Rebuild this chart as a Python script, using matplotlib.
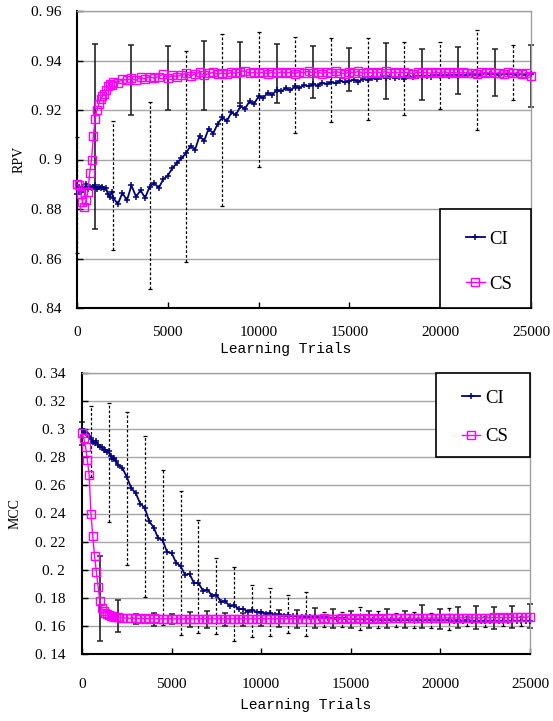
import numpy as np
import matplotlib
matplotlib.use('Agg')
import matplotlib.pyplot as plt
from matplotlib.patches import Rectangle

# x positions of the curve points (finer at the start where CS changes fast)
trials = list(range(0, 2001, 100)) + list(range(2250, 25001, 250))

rpv_ci = [0.886, 0.889, 0.887, 0.889, 0.888, 0.890, 0.888, 0.889, 0.8885, 0.889,
          0.8895, 0.888, 0.889, 0.8885, 0.889, 0.888, 0.8885, 0.886, 0.885, 0.887,
          0.8845,
          0.882, 0.8865, 0.8835, 0.8895, 0.885, 0.8875, 0.8845, 0.889, 0.8905, 0.8885,
          0.892, 0.8935, 0.8965, 0.8985, 0.9005, 0.9025, 0.9055, 0.904, 0.9095, 0.9075,
          0.9125, 0.9105, 0.9145, 0.917, 0.9155, 0.919, 0.918, 0.9215, 0.9205, 0.9235,
          0.9225, 0.9255, 0.925, 0.9268, 0.9262, 0.928, 0.9275, 0.9288, 0.928, 0.9295,
          0.929, 0.930, 0.9296, 0.9305, 0.9298, 0.931, 0.9305, 0.9312, 0.9308, 0.9318,
          0.9312, 0.9318, 0.9322, 0.9315, 0.9325, 0.9322, 0.9328, 0.9325, 0.9332, 0.933,
          0.9335, 0.9328, 0.9334, 0.9326, 0.9336, 0.9332, 0.9338, 0.9334, 0.9339, 0.9335,
          0.934, 0.9336, 0.9341, 0.9337, 0.9342, 0.9339, 0.9343, 0.934, 0.9344, 0.9341,
          0.9345, 0.9348, 0.9344, 0.9346, 0.9343, 0.9347, 0.9344, 0.9346, 0.9343, 0.9345,
          0.9342, 0.9344]

rpv_cs = [0.890, 0.8895, 0.886, 0.883, 0.881, 0.8835, 0.887, 0.8945, 0.900, 0.9095,
          0.9165, 0.920, 0.9225, 0.9245, 0.9255, 0.9265, 0.928, 0.9295, 0.9305, 0.930,
          0.9315,
          0.931, 0.9325, 0.932, 0.9328, 0.932, 0.9332, 0.9325, 0.9335, 0.9328, 0.9335,
          0.9345, 0.933, 0.934, 0.9335, 0.9342, 0.9348, 0.9338, 0.9345, 0.9352, 0.934,
          0.9348, 0.9352, 0.9344, 0.935, 0.9345, 0.9352, 0.9348, 0.9355, 0.9358, 0.9348,
          0.9352, 0.9348, 0.9353, 0.9346, 0.9352, 0.9348, 0.9354, 0.9349, 0.9353, 0.9347,
          0.9355, 0.935, 0.9358, 0.9349, 0.9355, 0.9347, 0.9353, 0.9349, 0.9356, 0.9351,
          0.9346, 0.9354, 0.935, 0.9357, 0.9348, 0.9354, 0.9349, 0.9355, 0.935, 0.9356,
          0.9348, 0.9353, 0.9349, 0.9354, 0.935, 0.9347, 0.9353, 0.9349, 0.9352, 0.9348,
          0.9354, 0.935, 0.9355, 0.9349, 0.9352, 0.9348, 0.9353, 0.9349, 0.9351, 0.9346,
          0.9352, 0.9349, 0.9353, 0.9348, 0.9351, 0.9347, 0.9352, 0.9348, 0.935, 0.9346,
          0.9349, 0.9338]

mcc_ci = [0.300, 0.2985, 0.297, 0.2965, 0.2945, 0.2935, 0.291, 0.2905, 0.2915, 0.2885,
          0.287, 0.2875, 0.285, 0.2855, 0.2835, 0.2845, 0.281, 0.279, 0.2795, 0.2775,
          0.2745,
          0.2725, 0.2660, 0.2580, 0.2545, 0.2470, 0.2440, 0.2345, 0.2300, 0.2225, 0.2210,
          0.2125, 0.2120, 0.2050, 0.2025, 0.1965, 0.1970, 0.1905, 0.1905, 0.1850, 0.1858,
          0.1815, 0.1822, 0.1772, 0.1775, 0.1740, 0.1748, 0.1720, 0.1722, 0.1702, 0.1714,
          0.1698, 0.1700, 0.1688, 0.1690, 0.1680, 0.1682, 0.1674, 0.1676, 0.1670, 0.1672,
          0.1666, 0.1668, 0.1662, 0.1664, 0.1658, 0.1660, 0.1655, 0.1657, 0.1652, 0.1653,
          0.1650, 0.1651, 0.1648, 0.1649, 0.1646, 0.1647, 0.1645, 0.1646, 0.1644, 0.1645,
          0.1643, 0.1644, 0.1642, 0.1643, 0.1641, 0.1642, 0.1640, 0.1641, 0.1640, 0.1641,
          0.1639, 0.1640, 0.1639, 0.1640, 0.1638, 0.1639, 0.1638, 0.1639, 0.1637, 0.1638,
          0.1637, 0.1638, 0.1637, 0.1638, 0.1636, 0.1637, 0.1636, 0.1637, 0.1636, 0.1637,
          0.1636, 0.1637]

mcc_cs = [0.297, 0.2935, 0.2875, 0.278, 0.2675, 0.240, 0.224, 0.210, 0.1985, 0.188,
          0.1775, 0.1725, 0.1708, 0.1695, 0.1688, 0.1678, 0.1672, 0.1668, 0.1666, 0.1664,
          0.1662,
          0.1658, 0.1656, 0.1654, 0.1655, 0.1652, 0.1654, 0.1651, 0.1653, 0.1650, 0.1652,
          0.1650, 0.1652, 0.1649, 0.1651, 0.1650, 0.1652, 0.1649, 0.1651, 0.1650, 0.1652,
          0.1650, 0.1651, 0.1649, 0.1651, 0.1650, 0.1652, 0.1650, 0.1651, 0.1649, 0.1651,
          0.1650, 0.1652, 0.1650, 0.1651, 0.1650, 0.1652, 0.1650, 0.1651, 0.1650, 0.1652,
          0.1651, 0.1652, 0.1650, 0.1652, 0.1651, 0.1653, 0.1651, 0.1652, 0.1651, 0.1653,
          0.1652, 0.1653, 0.1651, 0.1653, 0.1652, 0.1654, 0.1652, 0.1653, 0.1652, 0.1654,
          0.1653, 0.1654, 0.1653, 0.1655, 0.1654, 0.1655, 0.1654, 0.1656, 0.1655, 0.1656,
          0.1655, 0.1657, 0.1656, 0.1657, 0.1656, 0.1658, 0.1657, 0.1658, 0.1657, 0.1659,
          0.1658, 0.1659, 0.1658, 0.1660, 0.1659, 0.1660, 0.1659, 0.1661, 0.1660, 0.1661,
          0.1661, 0.1666]

# error bars (position, lower end, upper end)
rpv_cs_err_x = list(range(1000, 25001, 2000))
rpv_cs_err_lo = [0.8719, 0.9179, 0.9201, 0.9199, 0.9230, 0.9230, 0.9247,
                 0.9276, 0.9244, 0.9239, 0.9265, 0.9257, 0.9213]
rpv_cs_err_hi = [0.9467, 0.9464, 0.9460, 0.9480, 0.9476, 0.9468, 0.9459,
                 0.9450, 0.9471, 0.9445, 0.9455, 0.9445, 0.9461]

rpv_ci_err_x = list(range(0, 24001, 2000))
rpv_ci_err_lo = [0.8622, 0.8634, 0.8477, 0.8585, 0.8812, 0.8971, 0.9108,
                 0.9151, 0.9161, 0.9180, 0.9203, 0.9120, 0.9239]
rpv_ci_err_hi = [0.9092, 0.9157, 0.9234, 0.9440, 0.9508, 0.9516, 0.9494,
                 0.9491, 0.9490, 0.9473, 0.9473, 0.9522, 0.9464]

mcc_cs_err_x = list(range(0, 25001, 1000))
mcc_cs_err_lo = [0.2890, 0.1493, 0.1559, 0.1611, 0.1601, 0.1611, 0.1594, 0.1585, 0.1599,
                 0.1599, 0.1599, 0.1594, 0.1587, 0.1583, 0.1583, 0.1583, 0.1583, 0.1583,
                 0.1587, 0.1583, 0.1578, 0.1587, 0.1578, 0.1578, 0.1583, 0.1583]
mcc_cs_err_hi = [0.3053, 0.2098, 0.1782, 0.1682, 0.1690, 0.1682, 0.1701, 0.1705, 0.1690,
                 0.1694, 0.1690, 0.1713, 0.1713, 0.1725, 0.1718, 0.1706, 0.1708, 0.1718,
                 0.1708, 0.1749, 0.1718, 0.1732, 0.1742, 0.1737, 0.1744, 0.1754]

mcc_ci_err_x = list(range(500, 24501, 1000))
mcc_ci_err_lo = [0.2660, 0.2342, 0.2033, 0.1808, 0.1606, 0.1535, 0.1552, 0.1540, 0.1493,
                 0.1519, 0.1528, 0.1552, 0.1528, 0.1594, 0.1594, 0.1571, 0.1583, 0.1594,
                 0.1583, 0.1583, 0.1571, 0.1599, 0.1594, 0.1599, 0.1599]
mcc_ci_err_hi = [0.3165, 0.3187, 0.3125, 0.2954, 0.2710, 0.2560, 0.2352, 0.2081, 0.2020,
                 0.1891, 0.1872, 0.1820, 0.1839, 0.1701, 0.1701, 0.1737, 0.1708, 0.1690,
                 0.1701, 0.1694, 0.1725, 0.1670, 0.1670, 0.1666, 0.1670]

x_ticks = [0, 5000, 10000, 15000, 20000, 25000]
rpv_ticks = [0.84, 0.86, 0.88, 0.90, 0.92, 0.94, 0.96]
rpv_labels = ['0. 84', '0. 86', '0. 88', '0. 9', '0. 92', '0. 94', '0. 96']
mcc_ticks = [0.14, 0.16, 0.18, 0.20, 0.22, 0.24, 0.26, 0.28, 0.30, 0.32, 0.34]
mcc_labels = ['0. 14', '0. 16', '0. 18', '0. 2', '0. 22', '0. 24', '0. 26',
              '0. 28', '0. 3', '0. 32', '0. 34']

NAVY = '#000080'
MAGENTA = '#ff00ff'
SERIF = 'Liberation Serif'


def draw_err(ax, xs, lo, hi, dashed):
    lo = np.array(lo)
    hi = np.array(hi)
    if dashed:
        eb = ax.errorbar(xs, (lo + hi) / 2, yerr=(hi - lo) / 2, fmt='none', ecolor='black',
                         elinewidth=0.9, capsize=1.5, capthick=0.9, zorder=1.5, clip_on=False)
        eb[2][0].set_linestyle((0, (2.2, 1.6)))
    else:
        eb = ax.errorbar(xs, (lo + hi) / 2, yerr=(hi - lo) / 2, fmt='none', ecolor='#222222',
                         elinewidth=1.2, capsize=2.2, capthick=1.1, zorder=1.5, clip_on=False)
    return eb


def setup_axes(ax, yticks, ylabels, ylim):
    ax.set_xlim(0, 25000)
    ax.set_ylim(*ylim)
    ax.set_xticks(x_ticks)
    ax.set_xticklabels([str(t) for t in x_ticks], fontfamily=SERIF, fontsize=11)
    ax.set_yticks(yticks)
    ax.set_yticklabels(ylabels, fontfamily=SERIF, fontsize=11)
    ax.yaxis.grid(True, color='#a6a6a6', lw=1)
    ax.set_axisbelow(True)
    ax.tick_params(direction='in', length=4, width=1, color='black')
    ax.tick_params(axis='x', pad=13)
    ax.tick_params(axis='y', pad=11)
    for s in ['top', 'right']:
        ax.spines[s].set_color('#a0a0a0')
        ax.spines[s].set_linewidth(1)
    for s in ['left', 'bottom']:
        ax.spines[s].set_color('black')
        ax.spines[s].set_linewidth(1.5)


def draw_series(ax, ci, cs):
    l1, = ax.plot(trials, ci, color=NAVY, lw=1.3, marker='+', ms=4.5, mew=1.1,
                  label='CI', zorder=3, clip_on=False)
    l2, = ax.plot(trials, cs, color=MAGENTA, lw=1, marker='s', ms=5.5, mew=1,
                  mfc='none', label='CS', zorder=4, clip_on=False)
    return l1, l2


def draw_legend(ax, handles, box, anchor, spacing):
    rect = Rectangle((box[0], box[1]), box[2], box[3], transform=ax.transAxes,
                     facecolor='white', edgecolor='black', lw=1.2, zorder=5, clip_on=False)
    ax.add_patch(rect)
    leg = ax.legend(handles=handles, loc='center left', bbox_to_anchor=anchor,
                    frameon=False, borderpad=0, borderaxespad=0, handlelength=1.0,
                    handletextpad=0.25, labelspacing=spacing,
                    prop={'family': SERIF, 'size': 13.5})
    leg.set_zorder(6)


fig = plt.figure(figsize=(5.53, 7.21), dpi=100)
ax1 = fig.add_axes([77 / 553, (721 - 308) / 721, 454 / 553, 297 / 721])
ax2 = fig.add_axes([82 / 553, (721 - 654) / 721, 448 / 553, 281 / 721])

# top panel: RPV
setup_axes(ax1, rpv_ticks, rpv_labels, (0.84, 0.96))
draw_err(ax1, rpv_ci_err_x, rpv_ci_err_lo, rpv_ci_err_hi, True)
draw_err(ax1, rpv_cs_err_x, rpv_cs_err_lo, rpv_cs_err_hi, False)
h = draw_series(ax1, rpv_ci, rpv_cs)
draw_legend(ax1, h, (0.7996, 0, 0.2004, 0.333), (0.857, 0.156), 1.5)
ax1.set_ylabel('RPV', fontfamily=SERIF, fontsize=10)
ax1.yaxis.set_label_coords(-0.114, 0.5)
ax1.set_xlabel('Learning Trials', fontfamily='Liberation Mono', fontsize=10.5)
ax1.xaxis.set_label_coords(0.46, -0.115)

# bottom panel: MCC
setup_axes(ax2, mcc_ticks, mcc_labels, (0.14, 0.34))
ax2.tick_params(axis='x', pad=17)
ax2.tick_params(axis='y', pad=12)
draw_err(ax2, mcc_ci_err_x, mcc_ci_err_lo, mcc_ci_err_hi, True)
draw_err(ax2, mcc_cs_err_x, mcc_cs_err_lo, mcc_cs_err_hi, False)
h = draw_series(ax2, mcc_ci, mcc_cs)
draw_legend(ax2, h, (0.7895, 0.701, 0.2105, 0.299), (0.8475, 0.8416), 1.15)
ax2.set_ylabel('MCC', fontfamily=SERIF, fontsize=10)
ax2.yaxis.set_label_coords(-0.134, 0.5)
ax2.set_xlabel('Learning Trials', fontfamily='Liberation Mono', fontsize=10.5)
ax2.xaxis.set_label_coords(0.5, -0.158)

fig.savefig('out.png', dpi=100)
